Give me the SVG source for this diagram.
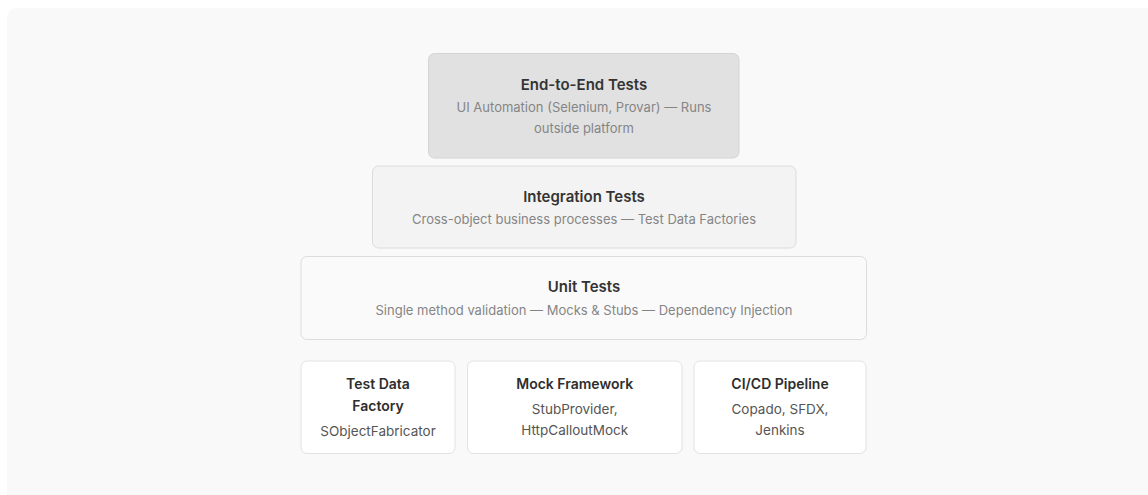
<svg xmlns="http://www.w3.org/2000/svg" width="1148" height="495" viewBox="0 0 1148 495">
  <style>
    text { font-family: Inter, "Noto Sans", "Liberation Sans", sans-serif; text-anchor: middle; }
    .title { font-size: 15px; font-weight: 600; fill: #333333; }
    .sub { font-size: 13px; fill: #858585; }
    .ctitle { font-size: 14px; font-weight: 600; fill: #2e2e2e; }
    .cdesc { font-size: 13.5px; fill: #555555; }
    .card { fill: #ffffff; stroke: #e2e2e2; stroke-width: 1; }
  </style>

  <!-- page and panel -->
  <rect x="0" y="0" width="1148" height="495" fill="#ffffff"/>
  <rect x="7" y="8" width="1150" height="500" rx="9" fill="#f9f9f9"/>

  <!-- pyramid tiers -->
  <g id="e2e-tests">
    <rect x="428.5" y="53.5" width="310.5" height="104.5" rx="6" fill="#e1e1e1" stroke="#d4d4d4"/>
    <text class="title" x="584" y="89.5">End-to-End Tests</text>
    <text class="sub" x="584" y="111.5">UI Automation (Selenium, Provar) — Runs</text>
    <text class="sub" x="584" y="132.5">outside platform</text>
  </g>

  <g id="integration-tests">
    <rect x="372.5" y="166" width="423.5" height="82" rx="6" fill="#f3f3f3" stroke="#dcdcdc"/>
    <text class="title" x="584" y="201.5">Integration Tests</text>
    <text class="sub" x="584" y="223.5">Cross-object business processes — Test Data Factories</text>
  </g>

  <g id="unit-tests">
    <rect x="301" y="256.5" width="565.5" height="83" rx="6" fill="#fafafa" stroke="#dcdcdc"/>
    <text class="title" x="584" y="291.5">Unit Tests</text>
    <text class="sub" x="584" y="314.5">Single method validation — Mocks &amp; Stubs — Dependency Injection</text>
  </g>

  <!-- tooling cards -->
  <g id="test-data-factory">
    <rect class="card" x="301" y="361" width="154" height="92.5" rx="6"/>
    <text class="ctitle" x="378" y="388.5">Test Data</text>
    <text class="ctitle" x="378" y="410.5">Factory</text>
    <text class="cdesc" x="378" y="435.5">SObjectFabricator</text>
  </g>

  <g id="mock-framework">
    <rect class="card" x="467.5" y="361" width="214.5" height="92.5" rx="6"/>
    <text class="ctitle" x="574.75" y="388.5">Mock Framework</text>
    <text class="cdesc" x="574.75" y="414">StubProvider,</text>
    <text class="cdesc" x="574.75" y="435">HttpCalloutMock</text>
  </g>

  <g id="cicd-pipeline">
    <rect class="card" x="694" y="361" width="172" height="92.5" rx="6"/>
    <text class="ctitle" x="780" y="388.5">CI/CD Pipeline</text>
    <text class="cdesc" x="780" y="414">Copado, SFDX,</text>
    <text class="cdesc" x="780" y="435">Jenkins</text>
  </g>
</svg>
